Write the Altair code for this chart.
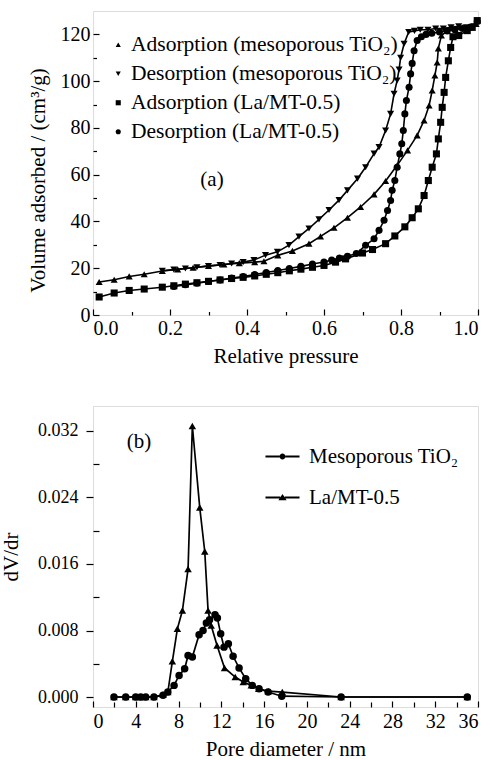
import altair as alt
import pandas as pd

FONT = "Liberation Serif"

# ---------- (a) N2 adsorption-desorption isotherms ----------
ads_ti_p = [0.016, 0.055, 0.094, 0.133, 0.18, 0.22, 0.26, 0.30, 0.34, 0.38, 0.42, 0.444, 0.48, 0.518,
            0.561, 0.591, 0.626, 0.661, 0.695, 0.73, 0.76, 0.79, 0.817, 0.842, 0.86, 0.873, 0.881,
            0.888, 0.894, 0.897, 0.905, 0.92, 0.94, 0.96, 0.98, 0.995]
ads_ti_v = [14.1, 15.1, 16.5, 17.4, 18.8, 19.5, 20.2, 21.0, 21.6, 22.2, 22.6, 23.0, 25.5, 27.4,
            30.5, 33.6, 37.3, 41.6, 46.2, 51.6, 57.3, 64.0, 70.4, 76.8, 83.2, 89.6, 96.0,
            102.4, 108.0, 114.0, 119.5, 121.5, 122.5, 123.0, 123.5, 124.5]

des_ti_p = [0.99, 0.97, 0.95, 0.93, 0.91, 0.89, 0.87, 0.85, 0.835, 0.82, 0.808, 0.799, 0.795, 0.79,
            0.782, 0.773, 0.76, 0.743, 0.73, 0.708, 0.687, 0.661, 0.639, 0.613, 0.587, 0.561,
            0.535, 0.509, 0.479, 0.448, 0.418, 0.39, 0.36, 0.33, 0.30, 0.27, 0.24, 0.21, 0.18]
des_ti_v = [123.5, 123.0, 123.5, 123.0, 122.5, 122.5, 122.0, 122.0, 121.5, 121.0, 116.0, 110.0, 105.0, 100.3,
            94.6, 86.0, 78.9, 71.8, 69.0, 63.2, 58.3, 53.3, 49.1, 44.9, 40.9, 37.0,
            33.5, 29.9, 27.0, 25.6, 23.5, 22.6, 22.0, 21.4, 20.9, 20.4, 19.9, 19.4, 18.9]

ads_la_p = [0.016, 0.055, 0.094, 0.133, 0.18, 0.21, 0.24, 0.27, 0.30, 0.33, 0.36, 0.39, 0.42, 0.45,
            0.48, 0.51, 0.54, 0.57, 0.60, 0.63, 0.656, 0.70, 0.726, 0.76, 0.784, 0.81, 0.829,
            0.845, 0.86, 0.871, 0.881, 0.892, 0.897, 0.903, 0.907, 0.912, 0.916, 0.923, 0.929,
            0.935, 0.95, 0.972, 0.985, 0.998]
ads_la_v = [7.7, 9.4, 10.5, 11.1, 11.9, 12.5, 13.2, 13.8, 14.4, 15.0, 15.6, 16.1, 16.7, 17.4,
            18.1, 18.9, 19.6, 20.4, 21.2, 22.6, 24.0, 26.5, 28.0, 30.5, 33.8, 37.7, 41.6,
            45.4, 51.1, 57.5, 63.2, 68.9, 75.3, 82.4, 88.8, 95.2, 101.6, 108.7, 114.4,
            119.0, 119.5, 121.6, 123.0, 125.9]

des_la_p = [0.998, 0.98, 0.96, 0.94, 0.92, 0.90, 0.88, 0.865, 0.853, 0.842, 0.834, 0.829, 0.825,
            0.821, 0.814, 0.81, 0.806, 0.802, 0.797, 0.79, 0.784, 0.777, 0.773, 0.765, 0.756,
            0.743, 0.73, 0.708, 0.684, 0.661, 0.64, 0.62, 0.60, 0.57, 0.54, 0.51, 0.48, 0.45,
            0.42, 0.39, 0.36, 0.33, 0.30, 0.27, 0.24, 0.21]
des_la_v = [125.5, 123.0, 122.5, 122.0, 121.5, 121.0, 120.5, 120.0, 119.0, 117.4, 113.0, 107.6, 103.1,
            97.4, 91.7, 86.0, 78.9, 73.2, 68.9, 63.2, 57.5, 53.3, 49.0, 44.7, 40.5,
            36.2, 32.6, 29.8, 26.3, 25.1, 24.4, 23.5, 22.7, 21.8, 20.8, 19.9, 19.0, 18.2,
            17.3, 16.5, 15.8, 15.0, 14.3, 13.6, 12.9, 12.2]

iso_names = ["Adsorption (mesoporous TiO\u2082)", "Desorption (mesoporous TiO\u2082)",
             "Adsorption (La/MT-0.5)", "Desorption (La/MT-0.5)"]
iso_shapes = ["triangle-up", "triangle-down", "square", "circle"]

# ---------- (b) pore size distribution ----------
pd_ti_d = [1.96, 3.06, 3.99, 4.46, 4.93, 5.7, 6.55, 7.0, 7.58, 8.05, 8.57, 8.89, 9.29, 9.92, 10.29,
           10.6, 10.9, 11.41, 11.63, 11.94, 12.25, 12.66, 13.1, 13.66, 14.28, 14.9, 15.53, 16.37,
           17.65, 23.2, 35.0]
pd_ti_v = [0, 0, 0, 0, 0, 0, 0.0002, 0.0006, 0.0014, 0.0026, 0.0034, 0.0050, 0.0048, 0.0075, 0.0080,
           0.0089, 0.0093, 0.0099, 0.0095, 0.0076, 0.0060, 0.0064, 0.0049, 0.0035, 0.0022, 0.0014,
           0.0010, 0.0006, 0.0001, 0, 0]

pd_la_d = [1.96, 3.06, 3.99, 4.46, 4.93, 5.7, 6.55, 7.0, 7.42, 7.89, 8.36, 8.89, 9.29, 9.98, 10.45,
           10.76, 11.05, 11.6, 12.3, 13.3, 14.05, 14.8, 15.5, 16.4, 17.7, 23.2, 35.0]
pd_la_v = [0, 0, 0, 0, 0, 0, 0.0003, 0.0006, 0.0043, 0.0082, 0.0104, 0.0154, 0.0326, 0.0228, 0.0175,
           0.0104, 0.0086, 0.0062, 0.0035, 0.0024, 0.0018, 0.0014, 0.0010, 0.0007, 0.0006, 0, 0]

psd_names = ["Mesoporous TiO\u2082", "La/MT-0.5"]
psd_shapes_alpha = ["triangle-up", "circle"]   # shapes for the names in alphabetical order


def long_df(xs_list, ys_list, names, xname, yname):
    frames = []
    for xs, ys, n in zip(xs_list, ys_list, names):
        frames.append(pd.DataFrame({xname: xs, yname: ys, "series": n, "grp": n,
                                    "i": range(len(xs))}))
    return pd.concat(frames, ignore_index=True)


iso = long_df([ads_ti_p, des_ti_p, ads_la_p, des_la_p], [ads_ti_v, des_ti_v, ads_la_v, des_la_v],
              iso_names, "p", "v")
psd = long_df([pd_ti_d, pd_la_d], [pd_ti_v, pd_la_v], psd_names, "d", "dv")

W = 385
FS = 21

# ---------- top panel ----------
xs_a = alt.Scale(domain=[0, 1], nice=False, zero=False)
ys_a = alt.Scale(domain=[0, 130], nice=False, zero=False)

ax_main_x = alt.Axis(values=[0, 0.2, 0.4, 0.6, 0.8, 1.0], format=".1f", orient="bottom", offset=-6,
                     tickSize=6, tickWidth=1.2, tickColor="black", domain=False, grid=False,
                     labelPadding=3, labelFontSize=20, labelColor="black", labelFont=FONT,
                     title="Relative pressure", titleFontSize=FS, titleFont=FONT, titleFontWeight="normal",
                     titleColor="black", titlePadding=7)
ax_main_y = alt.Axis(values=[0, 20, 40, 60, 80, 100, 120], orient="left", offset=-6, tickSize=6,
                     tickWidth=1.2, tickColor="black", domain=False, grid=False, labelPadding=3,
                     labelFontSize=20, labelColor="black", labelFont=FONT,
                     title="Volume adsorbed / (cm\u00b3/g)", titleFontSize=FS, titleFont=FONT,
                     titleFontWeight="normal", titleColor="black", titlePadding=12, titleY=169)
ax_min_x = alt.Axis(values=[0.1, 0.3, 0.5, 0.7, 0.9], orient="bottom", offset=-3.5, tickSize=3.5,
                    tickWidth=1.2, tickColor="black", domain=False, grid=False, labels=False, title=None)
ax_min_y = alt.Axis(values=[10, 30, 50, 70, 90, 110], orient="left", offset=-3.5, tickSize=3.5,
                    tickWidth=1.2, tickColor="black", domain=False, grid=False, labels=False, title=None)

lines_a = alt.Chart(iso).mark_line(color="black", strokeWidth=1.6).encode(
    x=alt.X("p:Q", scale=xs_a, axis=ax_main_x),
    y=alt.Y("v:Q", scale=ys_a, axis=ax_main_y),
    detail="series:N",
    order="i:Q",
)
pts_a = alt.Chart(iso).mark_point(filled=True, color="black", size=50, opacity=1).encode(
    x=alt.X("p:Q", scale=xs_a, axis=ax_min_x),
    y=alt.Y("v:Q", scale=ys_a, axis=ax_min_y),
    shape=alt.Shape("series:N", scale=alt.Scale(domain=iso_names, range=iso_shapes),
                    legend=alt.Legend(title=None, orient="none", legendX=14.5, legendY=23,
                                      labelFont=FONT, labelFontSize=21.5, labelColor="black",
                                      labelOffset=2, symbolSize=26, symbolFillColor="black",
                                      symbolStrokeColor="black", symbolStrokeWidth=0.5,
                                      rowPadding=6, padding=0, labelLimit=400)),
)
lab_a = alt.Chart(pd.DataFrame({"t": ["(a)"]})).mark_text(
    font=FONT, fontSize=FS, color="black").encode(
    x=alt.value(119), y=alt.value(169), text="t:N")

top = alt.layer(lines_a, pts_a, lab_a).resolve_axis(x="independent", y="independent").properties(
    width=W, height=304)

# ---------- bottom panel ----------
xs_b = alt.Scale(domain=[0, 36], nice=False, zero=False)
ys_b = alt.Scale(domain=[-0.0012, 0.035], nice=False, zero=False)

bx_main = alt.Axis(values=list(range(0, 37, 4)), format="d", orient="bottom", offset=-6, tickSize=6,
                   tickWidth=1.2, tickColor="black", domain=False, grid=False, labelPadding=4,
                   labelFontSize=20, labelColor="black", labelFont=FONT,
                   title="Pore diameter / nm", titleFontSize=FS, titleFont=FONT,
                   titleFontWeight="normal", titleColor="black", titlePadding=7)
by_main = alt.Axis(values=[0, 0.008, 0.016, 0.024, 0.032], format=".3f", orient="left", offset=0,
                   tickSize=7, tickWidth=1.2, tickColor="black", domain=False, grid=False,
                   labelPadding=8, labelFontSize=18, labelColor="black", labelFont=FONT,
                   title="dV/dr", titleFontSize=FS, titleFont=FONT, titleFontWeight="normal",
                   titleColor="black", titlePadding=16)
bx_min = alt.Axis(values=list(range(2, 36, 4)), orient="bottom", offset=-5, tickSize=5, tickWidth=1.2,
                  tickColor="black", domain=False, grid=False, labels=False, title=None)
by_min = alt.Axis(values=[0.004, 0.012, 0.020, 0.028], orient="left", offset=-6, tickSize=6,
                  tickWidth=1.2, tickColor="black", domain=False, grid=False, labels=False, title=None)

# legend glyphs "-o-" and "-^-" as filled paths (line stubs + marker)
CIRC = ("M-4.55,-0.27L-0.8,-0.27L-0.8,0.27L-4.55,0.27Z"
        "M0.8,-0.27L4.55,-0.27L4.55,0.27L0.8,0.27Z"
        "M0.8,0A0.8,0.8,0,1,1,-0.8,0A0.8,0.8,0,1,1,0.8,0Z")
TRI = ("M-4.55,-0.27L-0.6,-0.27L-0.6,0.27L-4.55,0.27Z"
       "M0.6,-0.27L4.55,-0.27L4.55,0.27L0.6,0.27Z"
       "M0,-0.95L1.1,0.75L-1.1,0.75Z")
sym_expr = "datum.value === 'La/MT-0.5' ? '%s' : '%s'" % (TRI, CIRC)

lines_b = alt.Chart(psd).mark_line(color="black", strokeWidth=1.7).encode(
    x=alt.X("d:Q", scale=xs_b, axis=bx_main),
    y=alt.Y("dv:Q", scale=ys_b, axis=by_main),
    detail="series:N",
    order="i:Q",
)
pts_b = alt.Chart(psd).mark_point(filled=True, color="black", opacity=1).encode(
    x=alt.X("d:Q", scale=xs_b, axis=bx_min),
    y=alt.Y("dv:Q", scale=ys_b, axis=by_min),
    shape=alt.Shape("series:N", scale=alt.Scale(range=psd_shapes_alpha), legend=None),
    size=alt.Size("grp:O", scale=alt.Scale(domain=psd_names, range=[56, 56]),
                  legend=alt.Legend(title=None, orient="none", legendX=179, legendY=40,
                                    labelFont=FONT, labelFontSize=FS, labelColor="black",
                                    labelOffset=16, symbolFillColor="black",
                                    symbolStrokeColor="black", symbolStrokeWidth=0,
                                    symbolType=alt.ExprRef(expr=sym_expr),
                                    rowPadding=19, padding=0, labelLimit=400)),
)
lab_b = alt.Chart(pd.DataFrame({"t": ["(b)"]})).mark_text(
    font=FONT, fontSize=FS, color="black").encode(
    x=alt.value(46), y=alt.value(36), text="t:N")

bottom = alt.layer(lines_b, pts_b, lab_b).resolve_axis(x="independent", y="independent").properties(
    width=W, height=301)

chart = alt.vconcat(top, bottom, spacing=91, bounds="flush").resolve_scale(
    shape="independent", size="independent").resolve_legend(
    shape="independent", size="independent").configure_view(
    stroke="black", strokeWidth=1.5).configure(font=FONT).properties(
    padding={"left": 0, "top": 10, "right": 0, "bottom": 0}, background="white")

chart.save("out.html", embed_options={"renderer": "svg", "actions": False})
